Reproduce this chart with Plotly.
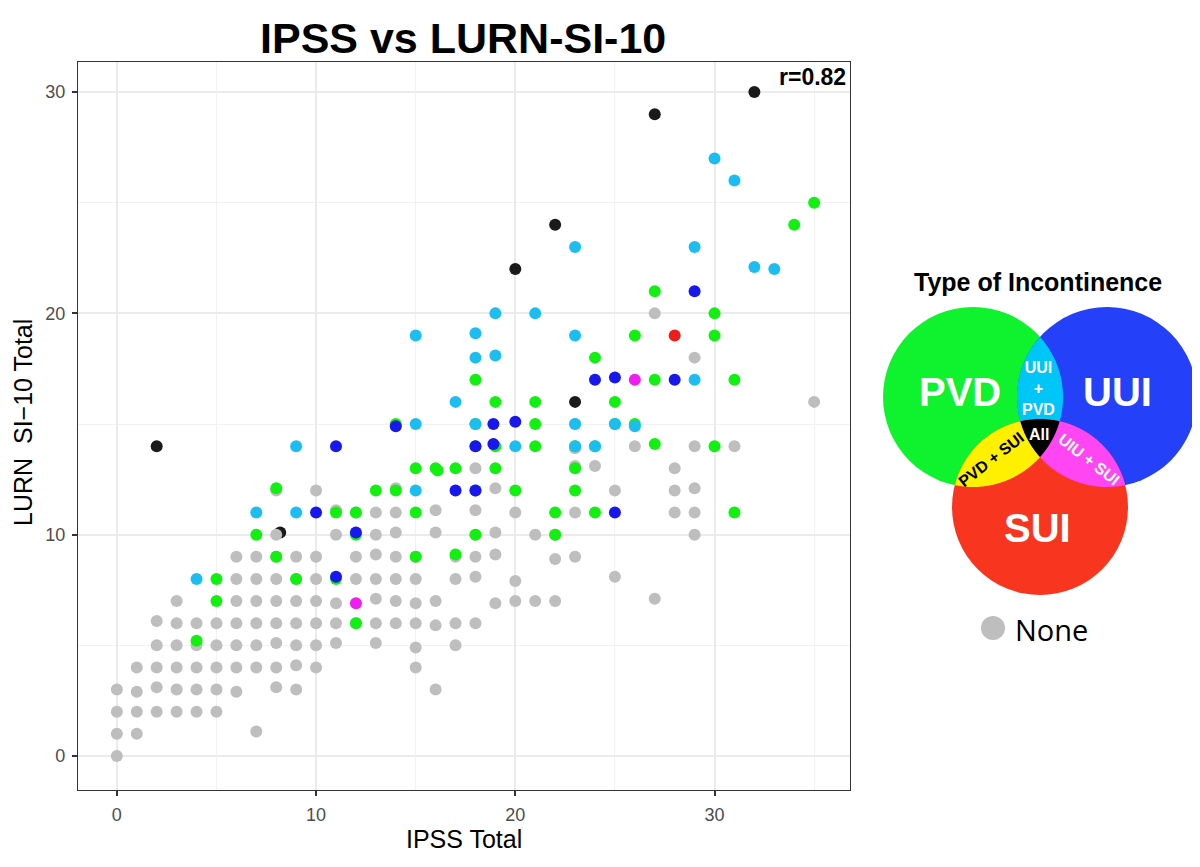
import numpy as np
import plotly.graph_objects as go

# IPSS total (x) vs LURN SI-10 total (y), one pair of lists per incontinence group
none_x = [0, 0, 1, 7, 0, 1, 2, 3, 4, 5,
          0, 1, 2, 3, 4, 5, 6, 8, 9, 16,
          1, 2, 3, 4, 5, 6, 7, 8, 9, 10, 15,
          2, 3, 4, 5, 6, 7, 8, 9, 10, 11, 13, 15, 17,
          2, 3, 4, 5, 6, 7, 8, 9, 10, 11, 12, 13, 14, 15, 16, 17, 18,
          3, 6, 7, 8, 9, 10, 11, 13, 14, 15, 16, 19, 20, 21, 22, 27,
          6, 7, 8, 9, 10, 12, 13, 14, 15, 17, 18, 20, 25,
          6, 7, 8, 9, 10, 12, 13, 14, 15, 17, 18, 19, 22, 23,
          8, 11, 13, 14, 16, 18, 19, 21, 22, 29,
          11, 12, 13, 14, 16, 18, 20, 23, 28, 29,
          8, 10, 14, 19, 25, 28, 29,
          18, 23, 24, 28,
          23, 26, 29, 31,
          23, 35, 29, 27]
none_y = [0, 1, 1, 1.1, 2, 2, 2, 2, 2, 2,
          3, 2.9, 3.1, 3, 3, 3, 2.9, 3.1, 3, 3,
          4, 4, 4, 4, 4, 4, 4, 4, 4.1, 4, 4,
          5, 5, 5, 5, 5, 5, 5.1, 5, 5, 5.1, 5.1, 4.9, 5,
          6.1, 6, 6, 6, 6, 6, 6, 6, 6, 6, 6, 6, 6, 6, 5.9, 6, 6,
          7, 7, 7, 7, 7, 7, 6.9, 7.1, 7, 6.9, 7, 6.9, 7, 7, 7, 7.1,
          8, 8, 8, 8, 8, 8, 8, 8, 8, 8, 8.1, 7.9, 8.1,
          9, 9, 9, 9, 9, 9, 9.1, 9, 9, 9, 9, 9.1, 8.9, 9,
          10, 10, 10, 10.1, 10.1, 10, 10.1, 10, 10, 10,
          11.1, 11, 11, 11, 11.1, 11.1, 11, 11, 11, 11,
          12, 12, 12.1, 12.1, 12, 12, 12.1,
          13, 13.1, 13.1, 13,
          13.9, 14, 14, 14,
          15, 16, 18, 20]

pvd_x = [4, 5, 5, 7, 8, 8, 9, 11, 11, 12, 12, 12, 13,
         14, 14, 15, 15, 15, 16, 16.1, 17, 17, 18, 18, 18, 18, 19, 19, 19, 20,
         21, 21, 21, 22, 22, 23, 23, 23, 24, 24, 24, 25, 25, 26, 26, 27, 27, 27,
         30, 30, 30, 31, 31, 34, 35]
pvd_y = [5.2, 7, 8, 10, 12.1, 9, 8, 8, 11, 11, 10, 6, 12,
         12, 15, 13, 11, 9, 13, 12.9, 13, 9.1, 17, 15, 14, 10, 16, 14, 13, 12,
         16, 15, 14, 11, 10, 14, 13, 12, 18, 14, 11, 16, 15, 19, 15, 21, 17, 14.1,
         20, 19, 14, 17, 11, 24, 25]

uui_pvd_x = [4, 7, 9, 9, 15, 15, 15, 17, 18, 18, 18, 18, 19, 19, 20,
             21, 23, 23, 23, 23, 24, 25, 26, 29, 29, 30, 31, 32, 33]
uui_pvd_y = [8, 11, 11, 14, 12, 15, 19, 16, 12, 15, 18, 19.1, 18.1, 20, 14,
             20, 14, 15, 19, 23, 14, 15, 14.9, 17, 23, 27, 26, 22.1, 22]

uui_x = [10, 11, 11, 12, 14, 17, 18, 18, 18.9, 18.9, 20, 24, 25, 25, 28, 29]
uui_y = [11, 8.1, 14, 10.1, 14.9, 12, 12, 14, 14.1, 15, 15.1, 17, 17.1, 11, 17, 21]

uiu_sui_x = [12, 26]
uiu_sui_y = [6.9, 17]

sui_x = [28]
sui_y = [19]

all_x = [2, 8.2, 20, 22, 23, 27, 32]
all_y = [14, 10.1, 22, 24, 16, 29, 30]

groups = [
    ('All', all_x, all_y, '#1A1A1A'),
    ('None', none_x, none_y, '#BEBEBE'),
    ('PVD', pvd_x, pvd_y, '#12F012'),
    ('UUI + PVD', uui_pvd_x, uui_pvd_y, '#1CBEF2'),
    ('UUI', uui_x, uui_y, '#1818EE'),
    ('UIU + SUI', uiu_sui_x, uiu_sui_y, '#F01CF0'),
    ('SUI', sui_x, sui_y, '#EE1C1C'),
]

W, H = 1200, 867
OFF = 8  # page body margin


def px(x):
    return (x - OFF) / W


def py(y):
    return (H - (y - OFF)) / H


fig = go.Figure()
for name, xs, ys, col in groups:
    fig.add_trace(go.Scatter(x=xs, y=ys, mode='markers', name=name,
                             marker=dict(size=12, color=col, line=dict(width=0)),
                             xaxis='x', yaxis='y', showlegend=False))

# venn legend, drawn on a hidden pixel-scaled axis pair
circles = {'PVD': ((973, 397), 90, '#0FF22E'),
           'UUI': ((1107, 397), 90, '#2440F8'),
           'SUI': ((1040, 507), 88, '#F8361F')}


def region_path(names):
    pts = []
    t = np.linspace(0, 2 * np.pi, 1441)
    for n in names:
        (cx, cy), r, _ = circles[n]
        bx, by = cx + r * np.cos(t), cy + r * np.sin(t)
        keep = np.ones_like(t, dtype=bool)
        for m in names:
            if m == n:
                continue
            (ox, oy), orad, _ = circles[m]
            keep &= np.hypot(bx - ox, by - oy) <= orad + 0.01
        pts += list(zip(bx[keep], by[keep]))
    pts = np.array(pts)
    mx, my = pts.mean(axis=0)
    order = np.argsort(np.arctan2(pts[:, 1] - my, pts[:, 0] - mx))
    pts = pts[order]
    return 'M ' + ' L '.join(f'{a:.1f},{b:.1f}' for a, b in pts) + ' Z'


shapes = []
for n, ((cx, cy), r, col) in circles.items():
    shapes.append(dict(type='circle', xref='x2', yref='y2', x0=cx - r, x1=cx + r,
                       y0=cy - r, y1=cy + r, fillcolor=col, line=dict(width=0), layer='above'))
for names, col in [(['PVD', 'UUI'], '#00C6F8'), (['PVD', 'SUI'], '#FFF000'),
                   (['UUI', 'SUI'], '#FF46F2'), (['PVD', 'UUI', 'SUI'], '#000000')]:
    shapes.append(dict(type='path', xref='x2', yref='y2', path=region_path(names),
                       fillcolor=col, line=dict(width=0), layer='above'))
shapes.append(dict(type='circle', xref='x2', yref='y2', x0=981, x1=1005, y0=616, y1=640,
                   fillcolor='#BEBEBE', line=dict(width=0), layer='above'))
fig.update_layout(shapes=shapes)

bold = 'Liberation Sans'
ann = [
    dict(text='<b>IPSS vs LURN-SI-10</b>', x=px(463), y=py(38), xref='paper', yref='paper',
         font=dict(size=43, color='black', family=bold)),
    dict(text='<b>r=0.82</b>', x=px(848), y=py(77), xref='paper', yref='paper', xanchor='right',
         font=dict(size=23, color='black', family=bold)),
    dict(text='IPSS Total', x=px(464), y=py(839), xref='paper', yref='paper',
         font=dict(size=25, color='black')),
    dict(text='LURN\u00a0 SI\u221210 Total', x=px(23), y=py(423), xref='paper', yref='paper', textangle=-90,
         font=dict(size=25, color='black')),
    dict(text='<b>Type of Incontinence</b>', x=1038, y=282, xref='x2', yref='y2',
         font=dict(size=25, color='black', family=bold)),
    dict(text='<b>PVD</b>', x=960, y=392, xref='x2', yref='y2', font=dict(size=40, color='white', family=bold)),
    dict(text='<b>UUI</b>', x=1117, y=392, xref='x2', yref='y2', font=dict(size=40, color='white', family=bold)),
    dict(text='<b>SUI</b>', x=1037, y=528, xref='x2', yref='y2', font=dict(size=40, color='white', family=bold)),
    dict(text='<b>UUI<br>+<br>PVD</b>', x=1038, y=388, xref='x2', yref='y2',
         font=dict(size=16, color='white', family=bold)),
    dict(text='<b>All</b>', x=1039, y=434, xref='x2', yref='y2', font=dict(size=16, color='white', family=bold)),
    dict(text='<b>PVD + SUI</b>', x=991, y=459, xref='x2', yref='y2', textangle=-38,
         font=dict(size=16, color='black', family=bold)),
    dict(text='<b>UIU + SUI</b>', x=1089, y=459, xref='x2', yref='y2', textangle=38,
         font=dict(size=16, color='white', family=bold)),
    dict(text='None', x=1013, y=629, xref='x2', yref='y2', xanchor='left',
         font=dict(size=29, color='black', family='Open Sans')),
]
for a in ann:
    a['showarrow'] = False
    a.setdefault('xanchor', 'center')
    a['yanchor'] = 'middle'
fig.update_layout(annotations=ann)

axis_common = dict(showline=True, mirror=True, linecolor='#333333', linewidth=1.3,
                   ticks='outside', ticklen=5, tickwidth=1.6, tickcolor='#333333',
                   tickfont=dict(size=18, color='#4D4D4D'), ticklabelstandoff=3,
                   showgrid=True, gridcolor='#EBEBEB', gridwidth=1.6, zeroline=False,
                   dtick=10, tick0=0, automargin=False,
                   minor=dict(dtick=5, tick0=0, showgrid=True, gridcolor='#F2F2F2', gridwidth=0.9))

fig.update_layout(
    width=W, height=H,
    margin=dict(l=0, r=0, t=0, b=0),
    paper_bgcolor='white', plot_bgcolor='white',
    font=dict(family='Liberation Sans', color='black'),
    xaxis=dict(domain=[px(78), px(850)], range=[-1.95, 36.8], anchor='y', **axis_common),
    yaxis=dict(domain=[py(790), py(62)], range=[-1.54, 31.36], anchor='x', **axis_common),
    xaxis2=dict(domain=[px(870), px(W + OFF)], range=[870, W + OFF], anchor='y2', visible=False, showgrid=False),
    yaxis2=dict(domain=[py(650), py(260)], range=[650, 260], anchor='x2', visible=False, showgrid=False),
)

fig.write_html("out.html")
